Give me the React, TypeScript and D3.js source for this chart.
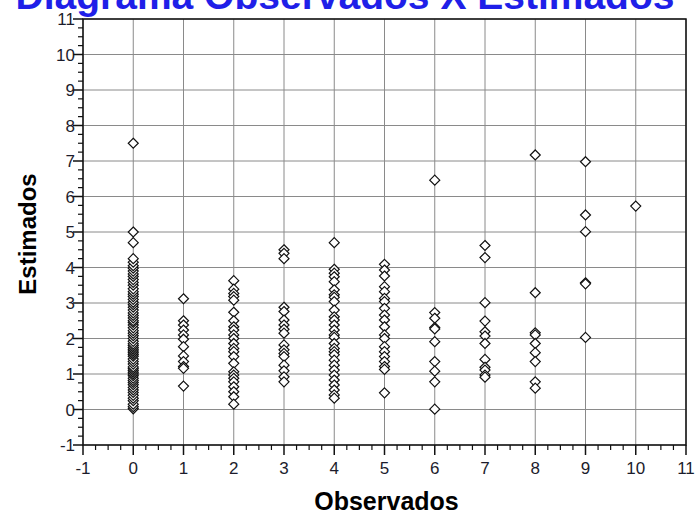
import React from "react";
import * as d3 from "d3";

// Observed category (x) and estimated values (y) per category
const observed = [0, 1, 2, 3, 4, 5, 6, 7, 8, 9, 10];

const est0 = [0.02, 0.08, 0.15, 0.25, 0.32, 0.4, 0.48, 0.55, 0.62, 0.7, 0.76, 0.82, 0.88, 0.95, 1.0, 1.05, 1.1, 1.15, 1.2, 1.28, 1.35, 1.42, 1.5, 1.55, 1.6, 1.65, 1.7, 1.75, 1.8, 1.85, 1.92, 2.0, 2.08, 2.15, 2.22, 2.3, 2.38, 2.45, 2.5, 2.58, 2.65, 2.72, 2.8, 2.88, 2.95, 3.02, 3.1, 3.18, 3.25, 3.32, 3.4, 3.5, 3.58, 3.66, 3.75, 3.82, 3.9, 3.98, 4.05, 4.15, 4.25, 4.7, 5.0, 7.5];
const est1 = [3.12, 2.5, 2.38, 2.24, 2.1, 1.98, 1.77, 1.51, 1.35, 1.21, 1.16, 0.66];
const est2 = [3.63, 3.39, 3.27, 3.18, 3.08, 2.74, 2.5, 2.33, 2.24, 2.1, 2.0, 1.86, 1.72, 1.63, 1.49, 1.3, 1.06, 0.97, 0.88, 0.78, 0.64, 0.5, 0.36, 0.15];
const est3 = [4.5, 4.4, 4.25, 2.88, 2.76, 2.52, 2.38, 2.26, 2.15, 1.82, 1.68, 1.58, 1.49, 1.25, 1.09, 0.92, 0.78];
const est4 = [4.7, 3.95, 3.84, 3.74, 3.6, 3.37, 3.23, 3.16, 3.04, 2.8, 2.61, 2.52, 2.38, 2.24, 2.1, 2.03, 1.86, 1.72, 1.63, 1.54, 1.39, 1.25, 1.11, 0.97, 0.83, 0.69, 0.55, 0.41, 0.32];
const est5 = [4.09, 3.93, 3.76, 3.46, 3.32, 3.13, 3.04, 2.85, 2.66, 2.52, 2.33, 2.1, 2.0, 1.77, 1.63, 1.49, 1.35, 1.21, 1.13, 0.47];
const est6 = [6.46, 2.73, 2.57, 2.31, 2.27, 1.91, 1.35, 1.08, 0.78, 0.01];
const est7 = [4.62, 4.28, 3.01, 2.49, 2.19, 2.07, 1.86, 1.41, 1.19, 1.11, 0.97, 0.91];
const est8 = [7.17, 3.29, 2.16, 2.1, 1.86, 1.6, 1.35, 0.78, 0.6];
const est9 = [6.98, 5.48, 5.01, 3.57, 3.54, 2.03];
const est10 = [5.73];

const estimates = [est0, est1, est2, est3, est4, est5, est6, est7, est8, est9, est10];

const xTicks = d3.range(-1, 12);
const yTicks = d3.range(-1, 12);

const title = "Diagrama Observados X Estimados";
const xTitle = "Observados";
const yTitle = "Estimados";

export default function App() {
  const W = 696;
  const H = 515;
  const left = 83;
  const right = 686;
  const top = 19;
  const bottom = 445;

  const x = d3.scaleLinear().domain([-1, 11]).range([left, right]);
  const y = d3.scaleLinear().domain([-1, 11]).range([bottom, top]);

  const points = observed.flatMap((o, i) => estimates[i].map((v) => ({ o, v })));
  const minor = d3.range(-1, 11.001, 0.25).filter((t) => Math.abs(t - Math.round(t)) > 1e-6);
  const font = "Arial, 'Liberation Sans', sans-serif";
  const diamond = (cx: number, cy: number, r: number) =>
    `M${cx},${cy - r}L${cx + r},${cy}L${cx},${cy + r}L${cx - r},${cy}Z`;

  return (
    <svg
      width={W}
      height={H}
      style={{ position: "absolute", left: 0, top: 0, background: "#fff" }}
      fontFamily={font}
    >
      <rect width={W} height={H} fill="#fff" />
      <text x={345} y={9} textAnchor="middle" fontSize={39} fontWeight="bold" fill="#1f1fe8">
        {title}
      </text>

      {/* grid */}
      {xTicks.map((t) => (
        <line key={"gx" + t} x1={x(t)} x2={x(t)} y1={top} y2={bottom} stroke="#8a8a8a" strokeWidth={1} />
      ))}
      {yTicks.map((t) => (
        <line key={"gy" + t} x1={left} x2={right} y1={y(t)} y2={y(t)} stroke="#8a8a8a" strokeWidth={1} />
      ))}

      {/* points */}
      {points.map((p, i) => (
        <path
          key={i}
          d={diamond(x(p.o), y(p.v), 5)}
          fill="#fff"
          stroke="#111"
          strokeWidth={1.2}
        />
      ))}

      {/* frame */}
      <rect x={left} y={top} width={right - left} height={bottom - top} fill="none" stroke="#111" strokeWidth={1.5} />

      {/* x axis ticks */}
      {xTicks.map((t) => (
        <line key={"xt" + t} x1={x(t)} x2={x(t)} y1={bottom} y2={bottom + 10} stroke="#111" strokeWidth={1.5} />
      ))}
      {minor.map((t) => (
        <line key={"xm" + t} x1={x(t)} x2={x(t)} y1={bottom} y2={bottom + 5} stroke="#111" strokeWidth={1.2} />
      ))}
      {xTicks.map((t) => (
        <text key={"xl" + t} x={x(t)} y={474} textAnchor="middle" fontSize={17} fill="#1c1c2c">
          {t}
        </text>
      ))}

      {/* y axis ticks */}
      {yTicks.map((t) => (
        <line key={"yt" + t} x1={left - 10} x2={left} y1={y(t)} y2={y(t)} stroke="#111" strokeWidth={1.5} />
      ))}
      {minor.map((t) => (
        <line key={"ym" + t} x1={left - 5} x2={left} y1={y(t)} y2={y(t)} stroke="#111" strokeWidth={1.2} />
      ))}
      {yTicks.map((t) => (
        <text key={"yl" + t} x={left - 8} y={y(t) + 6} textAnchor="end" fontSize={17} fill="#1c1c2c">
          {t}
        </text>
      ))}

      <text x={(left + right) / 2 + 2} y={510} textAnchor="middle" fontSize={25} fontWeight="bold" fill="#000">
        {xTitle}
      </text>
      <text
        transform={`translate(36,${(top + bottom) / 2 + 2}) rotate(-90)`}
        textAnchor="middle"
        fontSize={24}
        fontWeight="bold"
        fill="#000"
      >
        {yTitle}
      </text>
    </svg>
  );
}
